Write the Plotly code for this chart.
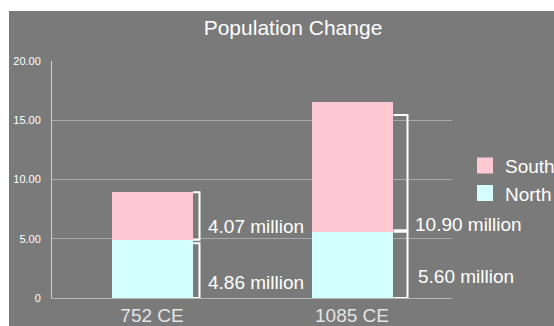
import plotly.graph_objects as go

# ---- data ----
categories = ["752 CE", "1085 CE"]
north = [4.86, 5.60]
south = [4.07, 10.90]
series_names = ["North", "South"]
ytick_vals = [0, 5, 10, 15, 20]
ytick_text = ["0", "5.00", "10.00", "15.00", "20.00"]
title_text = "Population Change"

BG = "#7a7a7a"
PINK = "#ffc9d3"
CYAN = "#d4ffff"
WHITE = "#ffffff"
FONT = "Liberation Sans, Arial, Helvetica, sans-serif"

xpos = list(range(len(categories)))

fig = go.Figure()
fig.add_trace(go.Bar(x=xpos, y=north, name="North", marker=dict(color=CYAN, line=dict(width=0)),
                     width=0.405, showlegend=False))
fig.add_trace(go.Bar(x=xpos, y=south, name="South", marker=dict(color=PINK, line=dict(width=0)),
                     width=0.405, showlegend=False))

# legend entries with larger square swatches
fig.add_trace(go.Scatter(x=[None], y=[None], mode="markers", name="South",
                         marker=dict(symbol="square", size=20, color=PINK)))
fig.add_trace(go.Scatter(x=[None], y=[None], mode="markers", name="North",
                         marker=dict(symbol="square", size=20, color=CYAN)))

shapes = []
# grey panel
shapes.append(dict(type="rect", xref="paper", yref="paper", x0=-0.1075, x1=1.3, y0=-0.2, y1=1.211,
                   fillcolor=BG, line=dict(width=0), layer="below"))

# brackets
def bracket(xv, xt, y0, y1):
    return dict(type="path", xref="x", yref="y", line=dict(color=WHITE, width=2),
                path=f"M {xt} {y1} L {xv} {y1} L {xv} {y0} L {xt} {y0}")

totals = [n + s for n, s in zip(north, south)]
# bar 1
shapes.append(bracket(0.2375, 0.205, north[0] + 0.05, totals[0]))
shapes.append(bracket(0.2375, 0.205, 0.0, north[0] - 0.25))
# bar 2
shapes.append(bracket(1.2775, 1.2075, north[1] + 0.12, totals[1] - 1.05))
shapes.append(bracket(1.2775, 1.2075, 0.0, north[1]))

annotations = []
label_pos = [
    (0.2675, 6.0, south[0]),
    (0.2675, 1.35, north[0]),
    (1.3025, 6.2, south[1]),
    (1.3175, 1.8, north[1]),
]
for x, y, v in label_pos:
    annotations.append(dict(x=x, y=y, xref="x", yref="y", text=f"{v:.2f} million",
                            showarrow=False, xanchor="left", yanchor="middle",
                            font=dict(family=FONT, size=19, color=WHITE)))

fig.update_layout(
    width=554, height=326, autosize=False,
    margin=dict(l=52, r=102, t=61, b=28, autoexpand=False),
    paper_bgcolor="white", plot_bgcolor=BG,
    barmode="stack",
    title=dict(text=title_text, x=293 / 554, xanchor="center", y=1 - 28 / 326, yanchor="middle",
               font=dict(family=FONT, size=21, color=WHITE)),
    font=dict(family=FONT, color=WHITE),
    xaxis=dict(range=[-0.5, 1.5], tickvals=xpos, ticktext=categories, showgrid=False,
               zeroline=False, showline=True, linecolor="#b5b5b5", linewidth=1,
               ticks="", ticklabelstandoff=0, automargin=False,
               tickfont=dict(family=FONT, size=19, color="#e4e4e4")),
    yaxis=dict(range=[0, 20], tickvals=ytick_vals, ticktext=ytick_text, showgrid=True,
               gridcolor="#a8a8a8", gridwidth=1, zeroline=False, showline=True,
               linecolor="#cfcfcf", linewidth=1, ticks="", ticklabelstandoff=8, automargin=False,
               tickfont=dict(family=FONT, size=11, color=WHITE)),
    legend=dict(x=1.0325, xanchor="left", y=0.639, yanchor="top", bgcolor="rgba(0,0,0,0)",
                traceorder="normal",
                font=dict(family=FONT, size=19, color=WHITE), itemclick=False),
    shapes=shapes,
    annotations=annotations,
)

post = ("document.documentElement.style.margin='0';document.body.style.margin='0';"
        "document.body.style.padding='0';document.body.style.overflow='hidden';")

fig.write_html("out.html", post_script=post, config={"displayModeBar": False})
